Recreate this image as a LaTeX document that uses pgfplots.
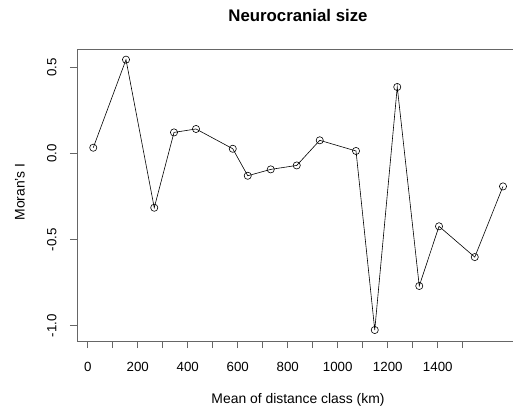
\documentclass[border=0pt]{standalone}
\usepackage{fontspec}
\setmainfont{Liberation Sans}
\usepackage{pgfplots}
\pgfplotsset{compat=1.18}

\begin{document}
\begin{tikzpicture}[x=1pt,y=1pt]
    \begin{axis}[
        name=ax,
        at={(0,0)},
        anchor=south west,
        scale only axis,
        width=442pt,
        height=292pt,
        xmin=-43, xmax=1725,
        ymin=-1.089, ymax=0.609,
        axis line style={black!60, line width=0.9pt},
        axis x line*=bottom,
        axis y line*=left,
        % R draws the full box, the right side falls off the page
        extra description/.code={
            \draw[black!60, line width=0.9pt] (0,1) -- (1,1);
        },
        xtick={0,100,...,1500},
        xticklabels={0,,200,,400,,600,,800,,1000,,1200,,1400,},
        ytick={-1,-0.5,0,0.5},
        yticklabels={-1.0,-0.5,0.0,0.5},
        tick align=outside,
        major tick length=7pt,
        tick style={black!60, line width=0.9pt},
        /pgf/number format/assume math mode=true,
        tick label style={font=\fontsize{13.3}{15}\selectfont},
        xticklabel style={yshift=-11pt},
        yticklabel style={rotate=90, anchor=south, yshift=10pt},
        title={Neurocranial size},
        title style={font=\fontsize{16.8}{18}\selectfont\bfseries, at={(0.5,1)}, anchor=center, yshift=28pt},
        xlabel={Mean of distance class (km)},
        xlabel style={font=\fontsize{13.9}{15}\selectfont, at={(0.5,0)}, anchor=center, yshift=-59pt},
        clip=false,
    ]
    \addplot[
        black,
        line width=0.6pt,
        mark=o,
        mark size=3.6pt,
        mark options={line width=0.6pt}
    ] coordinates {
        (22, 0.035)
        (153, 0.547)
        (266, -0.314)
        (345, 0.124)
        (433, 0.144)
        (580, 0.029)
        (640, -0.128)
        (732, -0.091)
        (836, -0.068)
        (928, 0.078)
        (1073, 0.016)
        (1148, -1.025)
        (1238, 0.388)
        (1326, -0.769)
        (1405, -0.422)
        (1548, -0.601)
        (1661, -0.190)
    };
    \end{axis}
    \node[rotate=90, font=\fontsize{13.9}{15}\selectfont] at (-57pt,149pt) {Moran's I};
    \pgfresetboundingbox
    \path[use as bounding box] (-77pt,-75pt) rectangle (436pt,341pt);
\end{tikzpicture}
\end{document}
